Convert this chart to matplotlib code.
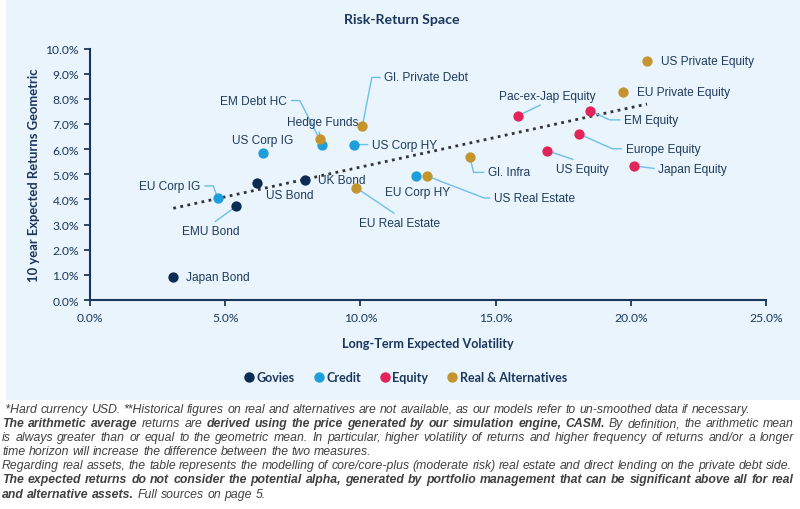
import numpy as np
import matplotlib
matplotlib.use("Agg")
import matplotlib.pyplot as plt
from matplotlib.patches import Rectangle
from matplotlib.lines import Line2D
from matplotlib.ticker import FuncFormatter, MultipleLocator

# --- data (volatility %, geometric return %) ---
govies_names = ["Japan Bond", "EMU Bond", "US Bond", "UK Bond"]
govies_vol = [3.08, 5.41, 6.19, 7.95]
govies_ret = [0.90, 3.73, 4.66, 4.77]

credit_names = ["EU Corp IG", "US Corp IG", "EM Debt HC", "US Corp HY", "EU Corp HY"]
credit_vol = [4.72, 6.40, 8.59, 9.76, 12.05]
credit_ret = [4.06, 5.86, 6.18, 6.18, 4.93]

equity_names = ["Pac-ex-Jap Equity", "US Equity", "Europe Equity", "EM Equity", "Japan Equity"]
equity_vol = [15.84, 16.89, 18.07, 18.50, 20.13]
equity_ret = [7.33, 5.94, 6.61, 7.52, 5.33]

real_names = ["Hedge Funds", "Gl. Private Debt", "EU Real Estate", "US Real Estate",
              "Gl. Infra", "EU Private Equity", "US Private Equity"]
real_vol = [8.49, 10.07, 9.85, 12.46, 14.05, 19.71, 20.60]
real_ret = [6.41, 6.90, 4.46, 4.93, 5.67, 8.27, 9.51]

groups = ["Govies", "Credit", "Equity", "Real & Alternatives"]
colors = ["#0D2C54", "#1E9FDB", "#E32459", "#C4952F"]

# label placement: offset in pixels (dx right, dy up), alignment, leader (relpos, connectionstyle)
ST = "arc3"
label_pos = {
    "Japan Bond": (13, 0, "left", None),
    "EMU Bond": (-26, -25, "center", ((0.5, 1), ST)),
    "US Bond": (9, -12, "left", None),
    "UK Bond": (13, 0, "left", None),
    "EU Corp IG": (-17, 12, "right", ((1, 0.5), "angle,angleA=0,angleB=110,rad=0")),
    "US Corp IG": (0, 13, "center", None),
    "EM Debt HC": (-35, 44, "right", ((1, 0.5), "angle,angleA=0,angleB=117,rad=0")),
    "US Corp HY": (18, 0, "left", ((0, 0.5), ST)),
    "EU Corp HY": (2, -16, "center", None),
    "Pac-ex-Jap Equity": (29, 20, "center", ((0.5, 0), ST)),
    "US Equity": (36, -18, "center", ((0.5, 1), ST)),
    "Europe Equity": (47, -15, "left", ((0, 0.5), "angle,angleA=0,angleB=-24,rad=0")),
    "EM Equity": (34, -9, "left", ((0, 0.5), "angle,angleA=0,angleB=-25,rad=0")),
    "Japan Equity": (24, -3, "left", ((0, 0.5), ST)),
    "Hedge Funds": (3, 17, "center", ((0.45, 0), ST)),
    "Gl. Private Debt": (22, 49, "left", ((0, 0.5), "angle,angleA=0,angleB=79,rad=0")),
    "EU Real Estate": (43, -35, "center", ((0.5, 1), ST)),
    "US Real Estate": (67, -22, "left", ((0, 0.5), "angle,angleA=0,angleB=-21,rad=0")),
    "Gl. Infra": (18, -15, "left", ((0, 0.5), "angle,angleA=0,angleB=-76,rad=0")),
    "EU Private Equity": (14, 0, "left", None),
    "US Private Equity": (14, 0, "left", None),
}

NAVY = "#1B365D"
LABEL = "#1F3B5E"
LEADER = "#6CBFEA"
PANEL = "#E9F4FC"
W, H = 800, 510

fig = plt.figure(figsize=(8, 5.1), dpi=100)
fig.patches.append(Rectangle((6 / W, 1 - 401 / H), 1, 401 / H, transform=fig.transFigure,
                             facecolor=PANEL, edgecolor="none", zorder=-10))

ax = fig.add_axes([90 / W, 1 - 301 / H, 676 / W, 251.5 / H])
ax.set_facecolor("none")
ax.set_xlim(0, 25)
ax.set_ylim(0, 10)
ax.xaxis.set_major_locator(MultipleLocator(5))
ax.yaxis.set_major_locator(MultipleLocator(1))
pct = FuncFormatter(lambda v, p: f"{v:.1f}%")
ax.xaxis.set_major_formatter(pct)
ax.yaxis.set_major_formatter(pct)
for s in ["top", "right"]:
    ax.spines[s].set_visible(False)
for s in ["left", "bottom"]:
    ax.spines[s].set_color(NAVY)
    ax.spines[s].set_linewidth(1.5)
ax.tick_params(length=4, width=1.3, color=NAVY, labelcolor=NAVY, labelsize=8.7, pad=4)
for t in ax.get_xticklabels() + ax.get_yticklabels():
    t.set_family("Lato")
ax.tick_params(axis="x", pad=5)

all_vol = govies_vol + credit_vol + equity_vol + real_vol
all_ret = govies_ret + credit_ret + equity_ret + real_ret

# trend line (linear fit over all assets)
k, b = np.polyfit(all_vol, all_ret, 1)
xs = np.array([min(all_vol), max(all_vol)])
ax.plot(xs, k * xs + b, linestyle=(0, (1, 1.6)), color="#333333", lw=2, zorder=2)

series = [(govies_names, govies_vol, govies_ret), (credit_names, credit_vol, credit_ret),
          (equity_names, equity_vol, equity_ret), (real_names, real_vol, real_ret)]
px = 72 / 100
for (names, vx, vy), c, g in zip(series, colors, groups):
    ax.scatter(vx, vy, s=55, color=c, zorder=5, linewidths=0, label=g)
    for n, x, y in zip(names, vx, vy):
        dx, dy, ha, lead = label_pos[n]
        kw = {}
        if lead is not None:
            rp, cs = lead
            kw["arrowprops"] = dict(arrowstyle="-", color=LEADER, lw=1.0, shrinkA=1, shrinkB=0,
                                    relpos=rp, connectionstyle=cs)
        ax.annotate(n, (x, y), xytext=(dx * px, dy * px), textcoords="offset points",
                    ha=ha, va="center", fontsize=8.6, color=LABEL, family="Liberation Sans",
                    zorder=4, **kw)

fig.text(402 / W, 1 - 20 / H, "Risk-Return Space", ha="center", va="center",
         fontsize=10.2, fontweight="bold", color=NAVY, family="Lato")
ax.set_xlabel("Long-Term Expected Volatility", fontsize=9.1, fontweight="bold", color=NAVY,
              family="Lato", labelpad=10)
fig.text(34 / W, 1 - 175 / H, "10 year Expected Returns Geometric", rotation=90, ha="center",
         va="center", fontsize=9.4, fontweight="bold", color=NAVY, family="Lato")

handles = [Line2D([], [], marker="o", linestyle="none", markersize=7.5, markerfacecolor=c,
                  markeredgewidth=0) for c in colors]
leg = fig.legend(handles, groups, loc="center", bbox_to_anchor=(405 / W, 1 - 378 / H), ncol=4,
                 frameon=False, handletextpad=0.1, columnspacing=1.4, handlelength=1.0,
                 prop=dict(family="Lato", weight="bold", size=9))
for t in leg.get_texts():
    t.set_color(NAVY)

# footnotes with mixed bold/italic runs
foot_lines = [
    [(" *Hard currency USD. **Historical figures on real and alternatives are not available, as our models refer to un-smoothed data if necessary.", False)],
    [("The arithmetic average", True), ("returns are", False),
     ("derived using the price generated by our simulation engine, CASM.", True),
     ("By definition, the arithmetic mean", False)],
    [("is always greater than or equal to the geometric mean. In particular, higher volatility of returns and higher frequency of returns and/or a longer", False)],
    [("time horizon will increase the difference between the two measures.", False)],
    [("Regarding real assets, the table represents the modelling of core/core-plus (moderate risk) real estate and direct lending on the private debt side.", False)],
    [("The expected returns do not consider the potential alpha, generated by portfolio management that can be significant above all for real", True)],
    [("and alternative assets.", True), ("Full sources on page 5.", False)],
]
justify = [False, True, True, False, False, True, False]
renderer = fig.canvas.get_renderer()


def word_width(word, bold, size):
    t = fig.text(0, 0, word, fontsize=size, style="italic",
                 fontweight="bold" if bold else "normal", family="Liberation Sans")
    w = t.get_window_extent(renderer).width
    t.remove()
    return w


def tokens(runs):
    out = []
    for txt, bold in runs:
        lead = txt.startswith(" ")
        for j, wd in enumerate(txt.split()):
            out.append(((" " + wd) if (lead and j == 0) else wd, bold))
    return out


def line_width(toks, size):
    sp = word_width("a a", False, size) - word_width("aa", False, size)
    return sum(word_width(w, bb, size) for w, bb in toks) + sp * (len(toks) - 1), sp


# pick the size so the "Regarding..." line spans the width as in the reference
base = 9.0
wref, _ = line_width(tokens(foot_lines[4]), base)
FS = base * 788 / wref
RIGHT = 794
for i, runs in enumerate(foot_lines):
    y = 1 - (410 + i * 14.1) / H
    toks = tokens(runs)
    widths = [word_width(w, bb, FS) for w, bb in toks]
    total, sp = line_width(toks, FS)
    gap = sp
    if justify[i] and len(toks) > 1:
        gap = sp + (RIGHT - 2 - total) / (len(toks) - 1)
    x = 2
    for (w, bb), ww in zip(toks, widths):
        fig.text(x / W, y, w, ha="left", va="center", fontsize=FS, style="italic",
                 fontweight="bold" if bb else "normal", color="#404040", family="Liberation Sans")
        x += ww + gap

fig.savefig("out.png", dpi=100)
